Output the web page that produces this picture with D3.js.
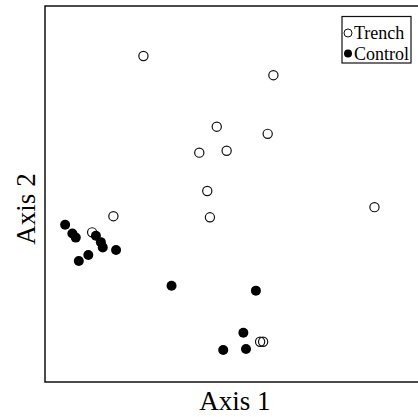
<!DOCTYPE html>
<html>
<head>
<meta charset="utf-8">
<script src="https://cdn.jsdelivr.net/npm/d3@7"></script>
<style>
  html, body { margin: 0; padding: 0; background: #fff; }
  svg { display: block; font-family: "Liberation Serif", "Times New Roman", serif; }
</style>
</head>
<body>
<svg id="chart" width="418" height="417"></svg>
<script>
// ---------- data (ordination scores) ----------
const trenchX  = [25.9, 60.1, 45.2, 58.6, 40.6, 47.8, 42.7, 43.4, 18.0, 86.7, 12.4, 56.6, 57.4];
const trenchY  = [86.7, 81.6, 67.9, 66.0, 61.0, 61.5, 50.8, 43.8, 44.1, 46.5, 39.8, 10.7, 10.7];
const controlX = [5.3, 7.2, 8.1, 13.4, 14.7, 15.2, 11.4, 8.9, 18.7, 33.3, 55.5, 52.2, 46.9, 52.9];
const controlY = [41.8, 39.5, 38.4, 38.9, 37.2, 35.8, 33.8, 32.2, 35.1, 25.6, 24.3, 13.1, 8.5, 8.8];
const groups   = ['Trench', 'Control'];
const axisLabels = ['Axis 1', 'Axis 2'];

// ---------- layout ----------
const svg = d3.select('#chart');
const m = { left: 45, top: 6, right: 425, bottom: 382 };

const x = d3.scaleLinear().domain([0, 100]).range([m.left, m.right]);
const y = d3.scaleLinear().domain([0, 100]).range([m.bottom, m.top]);

// frame (right edge falls outside the window, as in the original)
svg.append('rect')
  .attr('x', m.left).attr('y', m.top)
  .attr('width', m.right - m.left).attr('height', m.bottom - m.top)
  .attr('fill', 'none').attr('stroke', '#111').attr('stroke-width', 1.5);

const trench  = trenchX.map((v, i) => ({ x: v, y: trenchY[i] }));
const control = controlX.map((v, i) => ({ x: v, y: controlY[i] }));

// open symbols first, filled drawn over them
svg.append('g').selectAll('circle')
  .data(trench)
  .join('circle')
  .attr('cx', d => x(d.x))
  .attr('cy', d => y(d.y))
  .attr('r', 4.6)
  .attr('fill', 'none')
  .attr('stroke', '#111')
  .attr('stroke-width', 1.2);

svg.append('g').selectAll('circle')
  .data(control)
  .join('circle')
  .attr('cx', d => x(d.x))
  .attr('cy', d => y(d.y))
  .attr('r', 5)
  .attr('fill', '#000');

// axis titles
svg.append('text')
  .attr('x', (m.left + m.right) / 2)
  .attr('y', 410)
  .attr('text-anchor', 'middle')
  .attr('font-size', 27)
  .text(axisLabels[0]);

svg.append('text')
  .attr('transform', 'translate(35,209) rotate(-90)')
  .attr('text-anchor', 'middle')
  .attr('font-size', 27)
  .text(axisLabels[1]);

// ---------- legend ----------
const lg = svg.append('g');
lg.append('rect')
  .attr('x', 342).attr('y', 16.5)
  .attr('width', 69).attr('height', 46.5)
  .attr('fill', '#fff').attr('stroke', '#111').attr('stroke-width', 1.2);

const rows = lg.selectAll('g.row')
  .data(groups)
  .join('g')
  .attr('class', 'row')
  .attr('transform', (d, i) => `translate(348,${33 + i * 20.5})`);

rows.append('circle')
  .attr('r', 4)
  .attr('fill', (d, i) => i ? '#000' : 'none')
  .attr('stroke', '#111')
  .attr('stroke-width', (d, i) => i ? 0 : 1);

rows.append('text')
  .attr('x', 6)
  .attr('y', 6)
  .attr('font-size', 18)
  .text(d => d);
</script>
</body>
</html>
